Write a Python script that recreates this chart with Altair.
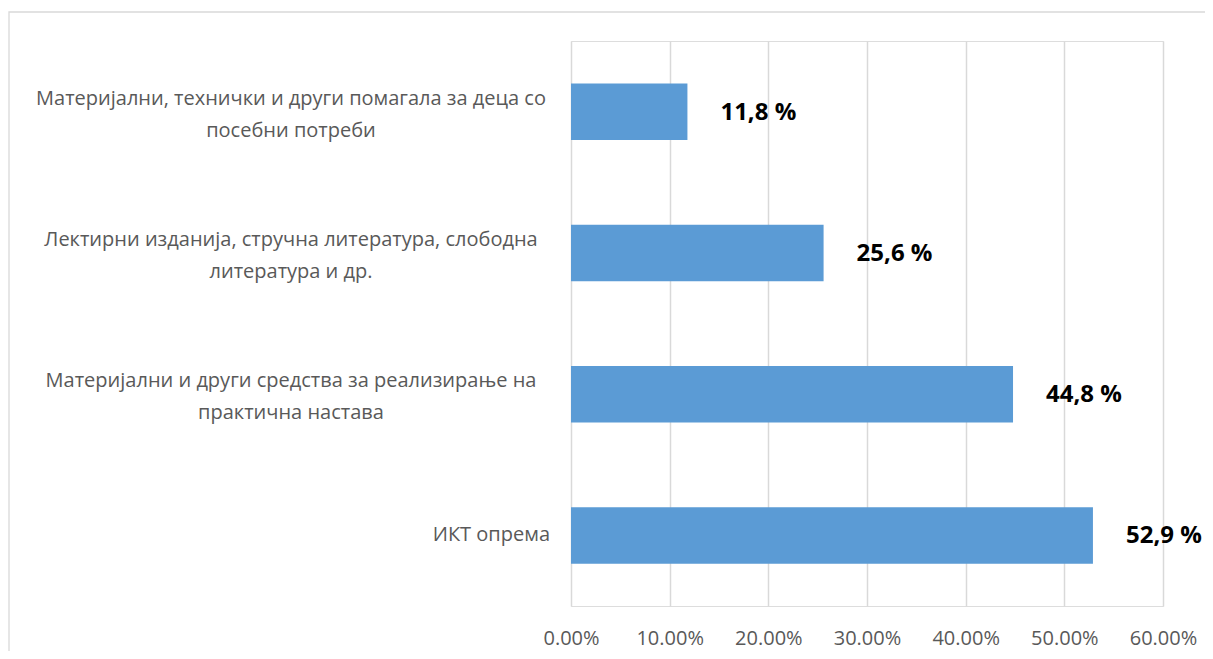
import altair as alt
import pandas as pd

# Data
categories = [
    "Материјални, технички и други помагала за деца со\nпосебни потреби",
    "Лектирни изданија, стручна литература, слободна\nлитература и др.",
    "Материјални и други средства за реализирање на\nпрактична настава",
    "ИКТ опрема",
]
values = [0.118, 0.256, 0.448, 0.529]
tick_values = [0.0, 0.1, 0.2, 0.3, 0.4, 0.5, 0.6]

df = pd.DataFrame({"cat": categories, "value": values})
df["label"] = [f"{v * 100:.1f}".replace(".", ",") + " %" for v in values]
df["multi"] = ["\n" in c for c in categories]

FONT = "Open Sans"
TEXT_GREY = "#595959"

y_enc = alt.Y(
    "cat:N",
    sort=categories,
    axis=None,
    scale=alt.Scale(paddingInner=0.6, paddingOuter=0.3),
)
x_enc = alt.X(
    "value:Q",
    scale=alt.Scale(domain=[0, 0.6], nice=False),
    axis=alt.Axis(
        values=tick_values,
        format=".2%",
        title=None,
        domain=False,
        ticks=False,
        grid=True,
        gridColor="#d9d9d9",
        gridWidth=1.5,
        labelFont=FONT,
        labelFontSize=20,
        labelColor=TEXT_GREY,
        labelPadding=22,
        labelFlush=False,
    ),
)

border = (
    alt.Chart(pd.DataFrame({"a": [0]}))
    .mark_rect(fillOpacity=0, stroke="#d9d9d9", strokeWidth=1.3)
    .encode(
        x=alt.value(-562),
        x2=alt.value(900),
        y=alt.value(-29),
        y2=alt.value(900),
    )
)

base = alt.Chart(df)

bars = base.mark_bar(color="#5B9BD5").encode(x=x_enc, y=y_enc)

value_labels = base.mark_text(
    align="left",
    baseline="middle",
    dx=33,
    dy=1,
    font=FONT,
    fontSize=24,
    fontWeight="bold",
    color="#000000",
).encode(x=alt.X("value:Q"), y=y_enc, text="label:N")

multi_labels = (
    base.transform_filter("datum.multi")
    .mark_text(
        align="center",
        baseline="middle",
        lineBreak="\n",
        lineHeight=32,
        dy=-13,
        font=FONT,
        fontSize=20,
        color=TEXT_GREY,
    )
    .encode(x=alt.value(-280), y=y_enc, text="cat:N")
)

single_labels = (
    base.transform_filter("!datum.multi")
    .mark_text(
        align="right",
        baseline="middle",
        font=FONT,
        fontSize=20,
        color=TEXT_GREY,
    )
    .encode(x=alt.value(-21), y=y_enc, text="cat:N")
)

chart = (
    alt.layer(border, bars, value_labels, multi_labels, single_labels)
    .properties(
        width=592,
        height=565,
        autosize=alt.AutoSizeParams(type="none"),
        padding={"left": 563, "top": 33, "right": 42, "bottom": 45},
    )
    .configure_view(stroke=None)
    .configure(background="#ffffff")
)

chart.save("out.html", embed_options={"renderer": "svg", "actions": False})
